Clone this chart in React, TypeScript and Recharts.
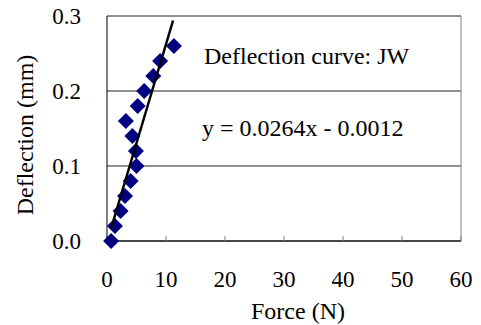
import React from "react";
import { ScatterChart, Scatter, XAxis, YAxis, CartesianGrid, ReferenceLine } from "recharts";

const FONT = '"Liberation Serif", "Times New Roman", serif';

// measured points (force N, deflection mm)
const force = [0.7, 1.35, 2.3, 3.05, 4.0, 5.0, 4.9, 4.3, 3.2, 5.2, 6.3, 7.85, 9.0, 11.35];
const deflection = [0.0, 0.02, 0.04, 0.06, 0.08, 0.1, 0.12, 0.14, 0.16, 0.18, 0.2, 0.22, 0.24, 0.26];

// linear trendline endpoints
const trendForce = [0.7, 11.2];
const trendDeflection = [0.017, 0.294];

const xTicks = [0, 10, 20, 30, 40, 50, 60];
const yTicks = [0, 0.1, 0.2, 0.3];

const points = force.map((x, i) => ({ x, y: deflection[i] }));
const trend = trendForce.map((x, i) => ({ x, y: trendDeflection[i] }));

const Diamond = (props: any) => {
  const { cx, cy } = props;
  const r = 8;
  return (
    <polygon
      points={`${cx},${cy - r} ${cx + r},${cy} ${cx},${cy + r} ${cx - r},${cy}`}
      fill="#000080"
    />
  );
};

export default function App() {
  return (
    <div style={{ position: "absolute", left: 0, top: 0, background: "#fff" }}>
      <ScatterChart width={481} height={325} margin={{ top: 16, right: 20, bottom: 0, left: 0 }}>
        <CartesianGrid vertical={false} stroke="#222" />
        <XAxis
          type="number"
          dataKey="x"
          domain={[0, 60]}
          ticks={xTicks}
          height={84}
          tickSize={-5}
          tickMargin={35}
          tickLine={{ stroke: "#808080" }}
          axisLine={{ stroke: "#000" }}
          tick={{ fontSize: 23, fill: "#000", fontFamily: FONT }}
          label={{ value: "Force (N)", position: "insideBottom", offset: 6, dx: 14, fontSize: 24, fill: "#000", fontFamily: FONT }}
        />
        <YAxis
          type="number"
          dataKey="y"
          domain={[0, 0.3]}
          ticks={yTicks}
          width={107}
          tickSize={0}
          tickMargin={26}
          tickLine={false}
          axisLine={{ stroke: "#000" }}
          tickFormatter={(v: number) => v.toFixed(1)}
          tick={{ fontSize: 23, fill: "#000", fontFamily: FONT }}
        />
        <ReferenceLine x={60} stroke="#808080" />
        <Scatter data={points} shape={Diamond} isAnimationActive={false} />
        <Scatter
          data={trend}
          line={{ stroke: "#000", strokeWidth: 2.5 }}
          shape={() => null}
          isAnimationActive={false}
        />
        <text
          x={0}
          y={0}
          transform="translate(25,135) rotate(-90)"
          textAnchor="middle"
          dominantBaseline="central"
          fontSize={24}
          fontFamily={FONT}
          fill="#000"
        >
          Deflection (mm)
        </text>
        <text x={204} y={64} fontSize={24} fontFamily={FONT} fill="#000">
          Deflection curve: JW
        </text>
        <text x={202} y={136} fontSize={24} fontFamily={FONT} fill="#000">
          y = 0.0264x - 0.0012
        </text>
      </ScatterChart>
    </div>
  );
}
